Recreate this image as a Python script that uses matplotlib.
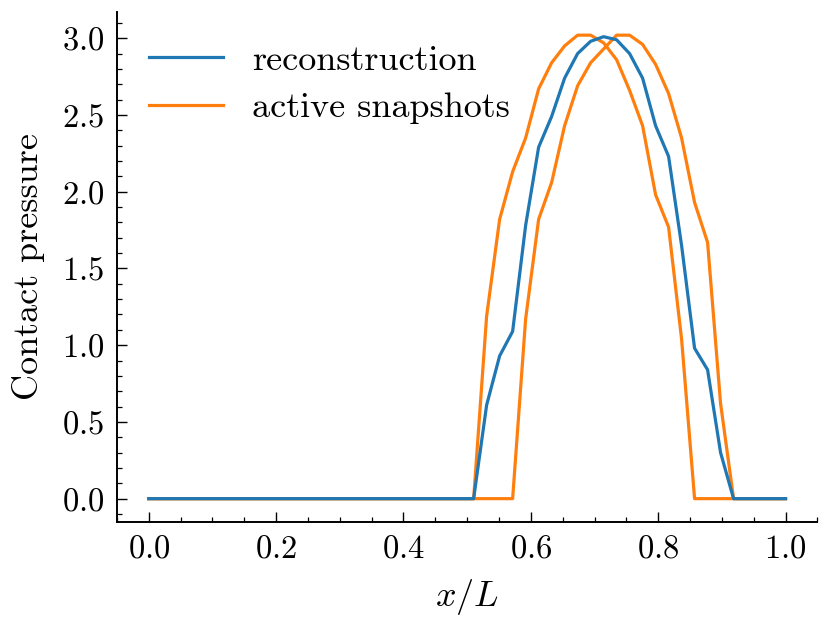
import numpy as np
import matplotlib
matplotlib.use("Agg")
import matplotlib.pyplot as plt
from matplotlib.ticker import MultipleLocator

plt.rcParams['font.family'] = 'serif'
plt.rcParams['font.serif'] = ['cmr10', 'DejaVu Serif']
plt.rcParams['mathtext.fontset'] = 'cm'
plt.rcParams['axes.formatter.use_mathtext'] = True
plt.rcParams['axes.unicode_minus'] = False

n_points = 50
x = np.linspace(0.0, 1.0, n_points)

# values for indices 25..45 (others zero)
recon_mid = [0.0, 0.61, 0.93, 1.09, 1.78, 2.29, 2.49, 2.74, 2.90, 2.98, 3.01,
             2.99, 2.90, 2.74, 2.43, 2.23, 1.65, 0.98, 0.84, 0.30, 0.0]
snap1_mid = [0.0, 1.19, 1.82, 2.13, 2.35, 2.67, 2.84, 2.95, 3.02, 3.02, 2.97,
             2.86, 2.66, 2.43, 1.98, 1.77, 1.04, 0.0, 0.0, 0.0, 0.0]
snap2_mid = [0.0, 0.0, 0.0, 0.0, 1.17, 1.82, 2.06, 2.43, 2.69, 2.84, 2.93,
             3.02, 3.02, 2.96, 2.83, 2.64, 2.35, 1.93, 1.67, 0.62, 0.0]
start = 25

def full(mid):
    y = np.zeros(n_points)
    y[start:start + len(mid)] = mid
    return y

recon = full(recon_mid)
snap1 = full(snap1_mid)
snap2 = full(snap2_mid)

fig = plt.figure(figsize=(8.29, 6.31), dpi=100)
ax = fig.add_axes([0.141, 0.173, 0.845, 0.808])

fs = 26
tfs = 23.5
ax.plot(x, recon, color='#1f77b4', lw=2.3, label='reconstruction', zorder=3)
ax.plot(x, snap1, color='#ff7f0e', lw=2.3, label='active snapshots', zorder=2)
ax.plot(x, snap2, color='#ff7f0e', lw=2.3, zorder=2)

ax.spines['top'].set_visible(False)
ax.spines['right'].set_visible(False)
for s in ('left', 'bottom'):
    ax.spines[s].set_linewidth(1.4)

ax.xaxis.set_major_locator(MultipleLocator(0.2))
ax.xaxis.set_minor_locator(MultipleLocator(0.05))
ax.yaxis.set_major_locator(MultipleLocator(0.5))
ax.yaxis.set_minor_locator(MultipleLocator(0.1))
ax.tick_params(which='both', direction='in', top=False, right=False, labelsize=tfs)
ax.tick_params(which='major', length=7, width=1.0, pad=9)
ax.tick_params(which='minor', length=3.6, width=0.9)

ax.set_xlim(-0.05, 1.05)
ax.set_ylim(-0.151, 3.171)

ax.set_xlabel(r'$x/L$', fontsize=fs, labelpad=10)
ax.set_ylabel('Contact pressure', fontsize=fs, labelpad=12)

ax.legend(loc='upper left', frameon=False, fontsize=fs, handlelength=2.05,
          handletextpad=0.8, labelspacing=0.42, borderaxespad=0.5)

fig.savefig('out.png', dpi=100)
